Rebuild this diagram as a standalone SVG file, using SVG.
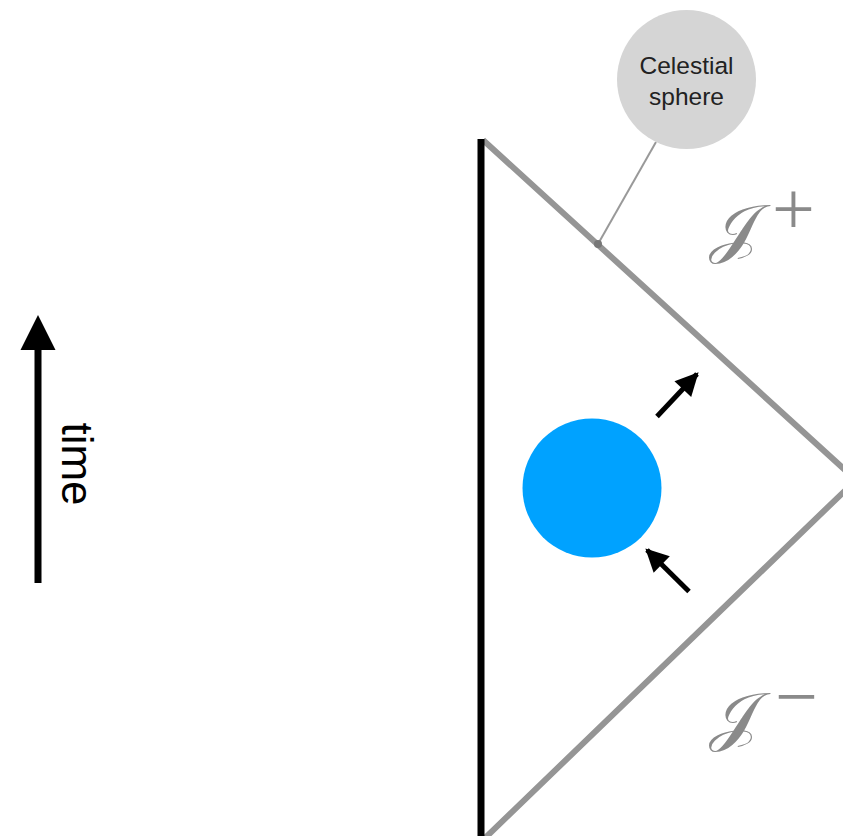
<svg xmlns="http://www.w3.org/2000/svg" width="843" height="836" viewBox="0 0 843 836">
<defs>
<style>
.bound{stroke:#959595;stroke-width:6;fill:none}
.scri{font-family:"DejaVu Serif","Noto Sans",serif;fill:#8a8a8a;font-size:64px}
.sup{font-family:"Liberation Serif","Times New Roman",serif;fill:#8a8a8a;font-size:76px}
.lbl{font-family:"Liberation Sans",Arial,sans-serif;fill:#222;font-size:24.5px;text-anchor:middle}
</style>
<marker id="ah" viewBox="0 0 10 10" refX="9" refY="5" markerWidth="5" markerHeight="4.6" orient="auto" markerUnits="strokeWidth">
<path d="M0,0 L10,5 L0,10 z" fill="#000"/>
</marker>
</defs>
<rect width="843" height="836" fill="#fff"/>
<g id="boundary">
<polyline class="bound" points="483,140 856,480 483,840"/>
<line x1="481" y1="139" x2="481" y2="840" stroke="#000" stroke-width="7"/>
</g>
<g id="time-axis">
<line x1="38" y1="583" x2="38" y2="345" stroke="#000" stroke-width="7"/>
<polygon points="38,315 20.5,350 55.5,350" fill="#000"/>
<text transform="translate(62,464) rotate(90)" font-family="Liberation Sans,Arial,sans-serif" font-size="44" text-anchor="middle" fill="#000">time</text>
</g>
<g id="source">
<circle cx="592" cy="488" r="69.5" fill="#00a2ff"/>
</g>
<g id="connectors">
<line x1="657" y1="416.5" x2="697" y2="374" stroke="#000" stroke-width="5" marker-end="url(#ah)"/>
<line x1="689" y1="591.5" x2="647" y2="550" stroke="#000" stroke-width="5" marker-end="url(#ah)"/>
<line x1="656" y1="142" x2="598" y2="244" stroke="#999" stroke-width="2"/>
<circle cx="598" cy="244" r="4" fill="#777"/>
</g>
<g id="celestial-sphere">
<circle cx="686.5" cy="79.5" r="69.5" fill="#d5d5d5"/>
<text class="lbl" x="686.5" y="74">Celestial</text>
<text class="lbl" x="686.5" y="105">sphere</text>
</g>
<g id="scri-plus">
<text class="scri" transform="translate(709,250) scale(1.15,1)">𝒥</text>
<text class="sup" x="772" y="234">+</text>
</g>
<g id="scri-minus">
<text class="scri" transform="translate(709,738) scale(1.15,1)">𝒥</text>
<text class="sup" x="775" y="722">−</text>
</g>
</svg>
